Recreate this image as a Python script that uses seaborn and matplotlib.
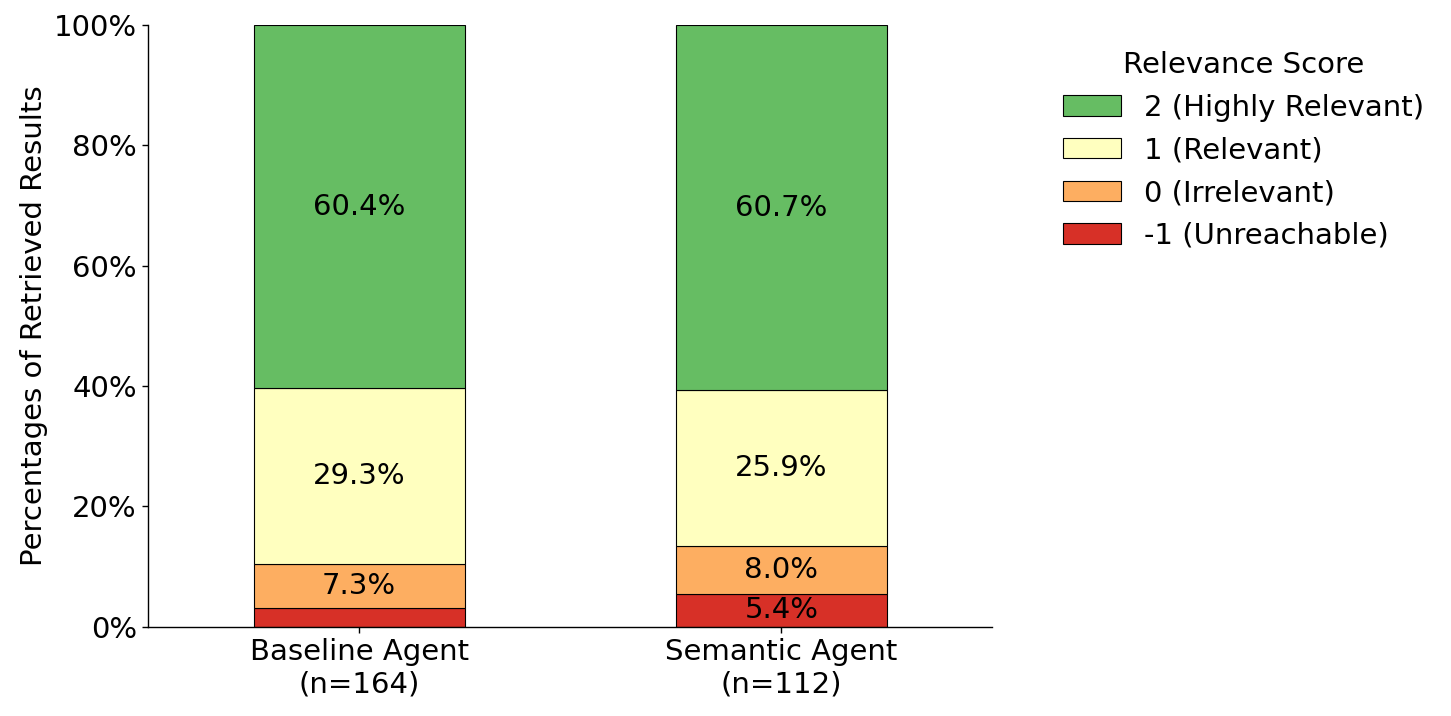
import numpy as np
import pandas as pd
import seaborn as sns
from matplotlib import pyplot as plt
from matplotlib.ticker import PercentFormatter

agents = ['Baseline Agent\n(n=164)', 'Semantic Agent\n(n=112)']
# counts per relevance score, bottom to top: -1, 0, 1, 2
scores = ['-1 (Unreachable)', '0 (Irrelevant)', '1 (Relevant)', '2 (Highly Relevant)']
baseline_counts = [5, 12, 48, 99]
semantic_counts = [6, 9, 29, 68]
colors = ['#d73027', '#fdae61', '#ffffbf', '#66bd63']

plt.rcParams['font.family'] = ['DejaVu Sans']
plt.rcParams['font.size'] = 21

counts = np.array([baseline_counts, semantic_counts], dtype=float)
pct = counts / counts.sum(axis=1, keepdims=True) * 100

fig = plt.figure(figsize=(14.51, 7.16), dpi=100)
ax = fig.add_axes([0.102, 0.125, 0.582, 0.84])

bottom = np.zeros(len(agents))
for i, score in enumerate(scores):
    df = pd.DataFrame({'agent': agents, 'pct': pct[:, i]})
    sns.barplot(data=df, x='agent', y='pct', bottom=bottom, color=colors[i],
                saturation=1, width=0.5, edgecolor='black', linewidth=0.8,
                label=score, ax=ax)
    for j in range(len(agents)):
        if pct[j, i] >= 5:
            ax.text(j, bottom[j] + pct[j, i] / 2, '{:.1f}%'.format(pct[j, i]),
                    ha='center', va='center', fontsize=21)
    bottom = bottom + pct[:, i]

ax.set_xlim(-0.5, 1.5)
ax.set_ylim(0, 100)
ax.yaxis.set_major_formatter(PercentFormatter(decimals=0))
ax.set_xlabel('')
ax.set_ylabel('Percentages of Retrieved Results', fontsize=21)
ax.tick_params(labelsize=21, length=4.5, width=1)
for s in ax.spines.values():
    s.set_linewidth(1)
sns.despine(ax=ax)

handles, labels = ax.get_legend_handles_labels()
ax.legend(handles[::-1], labels[::-1], title='Relevance Score', fontsize=21,
          title_fontsize=21, frameon=False, loc='upper left',
          bbox_to_anchor=(1.052, 1.0))

plt.savefig('out.png', dpi=100)
